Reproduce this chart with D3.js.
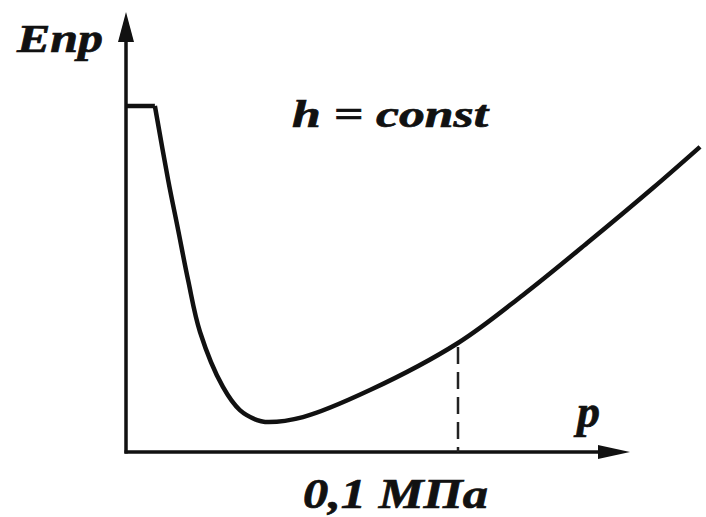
<!DOCTYPE html>
<html>
<head>
<meta charset="utf-8">
<script src="https://cdn.jsdelivr.net/npm/d3@7"></script>
<style>
body { margin: 0; background: #fff; }
text { font-family: "Liberation Serif", "Times New Roman", serif; font-weight: bold; font-style: italic; fill: #111; stroke: #111; stroke-width: 0.7; }
</style>
</head>
<body>
<div id="chart"></div>
<script>
var WIDTH = 706, HEIGHT = 517;

// p, MPa  and  Epr (relative units, plateau = 100)
const plateauP = [0, 0.0087];
const plateauE = [100, 100];
const curveP = [0.0087, 0.0127, 0.0157, 0.0187, 0.0223, 0.0292, 0.0343, 0.0395, 0.0419, 0.0533, 0.0735, 0.1, 0.1196, 0.1389, 0.1587, 0.1729];
const curveE = [100, 78.6, 64.2, 49.7, 34.7, 18.8, 12.1, 9.2, 8.7, 10.1, 17.9, 31.5, 45.4, 60.4, 76.3, 88.2];
const markP = [0.1];
const tickLabels = ["0,1 МПа"];
const yLabel = "Епр";
const xLabel = "p";
const note = "h = const";

const svg = d3.select("#chart").append("svg").attr("width", WIDTH).attr("height", HEIGHT)

// scales
const x = d3.scaleLinear().domain([0, 0.1]).range([126, 458])
const y = d3.scaleLinear().domain([0, 100]).range([452, 106])

// axes with arrow heads
svg.append("line").attr("x1", x(0)).attr("y1", y(0) + 1.5).attr("x2", x(0)).attr("y2", 30)
    .attr("stroke", "#111").attr("stroke-width", 3.5)
svg.append("path").attr("d", d3.line()([[x(0), 12], [x(0) - 8, 42], [x(0) + 8, 42]]) + "Z").attr("fill", "#111")

svg.append("line").attr("x1", x(0) - 1.5).attr("y1", y(0)).attr("x2", 612).attr("y2", y(0))
    .attr("stroke", "#111").attr("stroke-width", 3.5)
svg.append("path").attr("d", d3.line()([[630, y(0)], [598, y(0) - 7], [598, y(0) + 7]]) + "Z").attr("fill", "#111")

const line = d3.line().x(d => x(d[0])).y(d => y(d[1]))

// dashed marker at 0.1 MPa
const markE = markP.map(p => curveE[curveP.indexOf(p)])
markP.forEach((p, i) => {
    svg.append("line").attr("x1", x(p)).attr("x2", x(p)).attr("y1", y(markE[i])).attr("y2", y(0))
        .attr("stroke", "#222").attr("stroke-width", 2.5).attr("stroke-dasharray", "17,8").attr("stroke-dashoffset", 21)
})

svg.append("path").attr("d", line.curve(d3.curveLinear)(d3.zip(plateauP, plateauE)))
    .attr("fill", "none").attr("stroke", "#111").attr("stroke-width", 4.5)
svg.append("path").attr("d", line.curve(d3.curveCatmullRom.alpha(0.5))(d3.zip(curveP, curveE)))
    .attr("fill", "none").attr("stroke", "#111").attr("stroke-width", 4.5).attr("stroke-linejoin", "round")

// labels
svg.append("text").attr("x", 17).attr("y", 52).attr("font-size", 40).attr("textLength", 86).attr("lengthAdjust", "spacingAndGlyphs").text(yLabel)
svg.append("text").attr("x", 292).attr("y", 127).attr("font-size", 38).attr("textLength", 196).attr("lengthAdjust", "spacingAndGlyphs").text(note)
svg.append("text").attr("x", 577).attr("y", 427).attr("font-size", 46).text(xLabel)
markP.forEach((p, i) => {
    svg.append("text").attr("x", 303).attr("y", 508).attr("font-size", 42).attr("textLength", 185).attr("lengthAdjust", "spacingAndGlyphs").text(tickLabels[i])
})
</script>
</body>
</html>
